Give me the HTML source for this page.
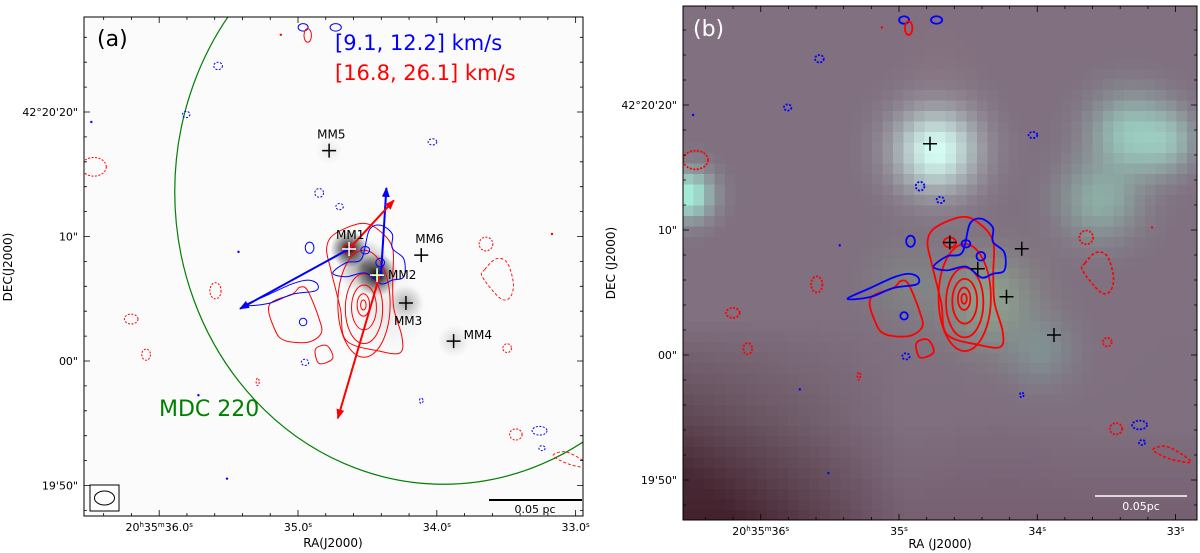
<!DOCTYPE html>
<html><head><meta charset="utf-8"><style>
html,body{margin:0;padding:0;background:#fff;}
svg{display:block;font-family:"DejaVu Sans","Liberation Sans",sans-serif;}
</style></head><body>
<svg id="fig" width="1200" height="553" viewBox="0 0 1200 553" xmlns="http://www.w3.org/2000/svg">
<defs>
<clipPath id="clipA"><rect x="84" y="17" width="499" height="499"/></clipPath>
<clipPath id="clipB"><rect x="683" y="6" width="514" height="514"/></clipPath>
<radialGradient id="blob" cx="50%" cy="50%" r="50%"><stop offset="0" stop-color="#000" stop-opacity="1"/><stop offset="0.4" stop-color="#000" stop-opacity="0.55"/><stop offset="1" stop-color="#000" stop-opacity="0"/></radialGradient>
<marker id="arrB" markerWidth="10" markerHeight="8" refX="9" refY="4" orient="auto" markerUnits="userSpaceOnUse"><path d="M0,0 L10,4 L0,8 z" fill="#0000ff"/></marker>
<marker id="arrR" markerWidth="10" markerHeight="8" refX="9" refY="4" orient="auto" markerUnits="userSpaceOnUse"><path d="M0,0 L10,4 L0,8 z" fill="#ff0000"/></marker>
</defs>
<g id="panelA">
<rect x="84" y="17" width="499" height="499" fill="#fbfbfb"/>
<g id="aImg" clip-path="url(#clipA)"></g>
<g id="aCont" clip-path="url(#clipA)"></g>
<g id="aOver"></g>
<rect x="84" y="17" width="499" height="499" fill="none" stroke="#000" stroke-width="1"/>
<g id="aTicks"></g>
<text x="97" y="46" font-size="22" fill="#000">(a)</text>
<text x="335" y="50" font-size="21" fill="#0000ff">[9.1, 12.2] km/s</text>
<text x="335" y="80" font-size="21" fill="#ff0000">[16.8, 26.1] km/s</text>
<text x="159" y="416" font-size="22" fill="#008000">MDC 220</text>
<rect x="90" y="485" width="29" height="26" fill="#fff" stroke="#000" stroke-width="1"/>
<ellipse cx="104.5" cy="498" rx="10" ry="7" fill="none" stroke="#000" stroke-width="1"/>
<line x1="489" y1="500" x2="582" y2="500" stroke="#000" stroke-width="2"/>
<text x="535" y="513" font-size="11" text-anchor="middle">0.05 pc</text>
<text x="333" y="547" font-size="12" text-anchor="middle">RA(J2000)</text>
<text transform="translate(12,267) rotate(-90)" font-size="12" text-anchor="middle">DEC(J2000)</text>
</g>
<g id="panelB">
<g id="bImg" clip-path="url(#clipB)"></g>
<g id="bCont" clip-path="url(#clipB)"></g>
<rect x="683" y="6" width="514" height="514" fill="none" stroke="#000" stroke-width="1"/>
<g id="bTicks"></g>
<text x="693" y="36" font-size="22" fill="#fff">(b)</text>
<line x1="1095" y1="496" x2="1187" y2="496" stroke="#fff" stroke-width="1.5"/>
<text x="1141" y="510" font-size="11" fill="#fff" text-anchor="middle">0.05pc</text>
<text x="940" y="548" font-size="12" text-anchor="middle">RA (J2000)</text>
<text transform="translate(615,263) rotate(-90)" font-size="12" text-anchor="middle">DEC (J2000)</text>
</g>
</svg>
<script>
// Data (X: arcsec west of RA 20h35m35.0s, Y: arcsec offset from Dec 42°20'00")
const sourceNames = ['MM1','MM2','MM3','MM4','MM5','MM6'];
const sourceX = [4.1, 6.35, 8.67, 12.5, 2.5, 9.9];
const sourceY = [9.0, 6.9, 4.66, 1.6, 16.9, 8.5];
const raTicks = [36, 35, 34, 33];
const raTickLabelsA = ['20h35m36.0s','35.0s','34.0s','33.0s'];
const raTickLabelsB = ['20h35m36s','35s','34s','33s'];
const decTicks = [20, 10, 0, -10];
const decTickLabels = ['42°20\'20"','10"','00"','19\'50"'];
const redOuter = [[2.94,10.2],[5.1,11.05],[6.5,10.5],[7.6,9.06],[7.6,6.5],[7.7,4.2],[8.35,1.94],[8.2,0.66],[6.5,0.8],[3.87,1.65],[3.4,4.2],[2.63,7.35],[2.3,9.06]];
const redLevelCX = [5.3, 5.3, 5.3, 5.25, 5.25];
const redLevelCY = [4.6, 4.2, 4.3, 4.5, 4.5];
const redLevelRX = [2.1, 1.5, 1.0, 0.5, 0.22];
const redLevelRY = [4.3, 2.8, 1.8, 0.9, 0.4];
const redLeft = [[-2.31,4.5],[-0.46,5.36],[0.16,5.93],[0.78,5.64],[1.7,3.37],[1.86,2.22],[0.78,1.51],[-1.08,1.65],[-1.85,2.5]];
const redSmall = [[1.4,0.94],[2.32,1.23],[2.79,0.22],[1.7,-0.2]];
const blueMain = [[2.79,7.07],[3.87,7.9],[5.1,8.2],[5.72,10.5],[6.65,10.9],[7.57,10.2],[7.57,9.06],[8.5,8.2],[8.5,6.77],[7.57,6.5],[6.65,6.2],[5.41,7.07],[3.87,6.77]];
const blueLeft = [[-4.16,4.5],[-2.31,5.36],[-0.46,6.2],[0.78,6.5],[1.55,6.2],[1.4,5.64],[-0.46,5.36],[-2.31,4.64]];
const redDashPoly = [[15.0,7.35],[15.9,8.2],[16.8,7.9],[17.3,6.2],[17.0,5.07],[16.2,5.07],[14.8,6.77]];
const redDashPoly2 = [[20.5,-7.6],[21.5,-7.3],[22.9,-8.0],[23.5,-8.6],[21.8,-8.3]];
// small contours: x, y, rx, ry, color, dashed
const smallX = [0.41,3.03,0.78,-6.42,-8.98,10.8,1.7,3.34,0.93,-16.4,15.1,-6.63,-13.4,-12.2,0.41,0.56,16.8,-3.24,9.9,17.5,19.4,19.6,5.4,6.6,4.1];
const smallY = [26.8,26.8,26.15,23.7,19.8,17.6,13.5,12.4,9.1,15.6,9.4,5.64,3.37,0.51,3.13,-0.11,1.03,-1.68,-3.19,-5.9,-5.6,-7.0,8.9,7.9,9.0];
const smallRX = [0.4,0.45,0.3,0.35,0.3,0.35,0.35,0.3,0.35,1.0,0.55,0.45,0.55,0.35,0.3,0.3,0.35,0.12,0.15,0.5,0.6,0.25,0.35,0.35,0.5];
const smallRY = [0.3,0.3,0.55,0.3,0.25,0.25,0.35,0.25,0.45,0.75,0.55,0.65,0.4,0.45,0.3,0.25,0.35,0.3,0.2,0.45,0.35,0.2,0.3,0.35,0.4];
const smallCol = ['b','b','r','b','b','b','b','b','b','r','r','r','r','r','b','b','r','r','b','r','b','b','b','b','r'];
const smallDash = [0,0,0,1,1,1,1,1,0,1,1,1,1,1,0,1,1,1,1,1,1,1,0,0,0];
const dotX = [-16.6,-4.78,-5.7,20.4,-1.38,-8.0];
const dotY = [19.2,8.77,-9.45,10.2,26.2,-2.75];
const dotCol = ['b','b','b','r','r','b'];
const arrowFromX = [4.1, 6.65, 4.1, 6.6];
const arrowFromY = [9.0, 6.7, 9.0, 7.0];
const arrowToX = [-4.66, 7.1, 7.7, 3.2];
const arrowToY = [4.2, 13.9, 12.9, -4.6];
const arrowCol = ['b','b','r','r'];
const mdcX = 11.7, mdcY = 13.6, mdcRX = 21.6, mdcRY = 23.5;

const NS = 'http://www.w3.org/2000/svg';
const A = {x: X => 298 + X*12.45, y: Y => 361 - Y*12.45, s: 12.45, w: 1};
const B = {x: X => 899 + X*12.4, y: Y => 355 - Y*12.5, s: 12.45, w: 1.8};
const raToX = ra => (35 - ra)*11.15;
function mk(tag, attrs, parent){ const e=document.createElementNS(NS,tag); for(const k in attrs) e.setAttribute(k,attrs[k]); parent.appendChild(e); return e; }
const C = {b:'#0000ff', r:'#ff0000'};
function smooth(pts, P){
  const p = pts.map(q=>[P.x(q[0]),P.y(q[1])]); const n=p.length; let d=`M${p[0][0]},${p[0][1]}`;
  for(let i=0;i<n;i++){const p0=p[(i-1+n)%n],p1=p[i],p2=p[(i+1)%n],p3=p[(i+2)%n];
    d+=` C${p1[0]+(p2[0]-p0[0])/6},${p1[1]+(p2[1]-p0[1])/6} ${p2[0]-(p3[0]-p1[0])/6},${p2[1]-(p3[1]-p1[1])/6} ${p2[0]},${p2[1]}`;}
  return d+'Z';
}
function contours(g, P){
  const sw = P.w;
  let e;
  e = mk('path',{d:smooth(redOuter,P),fill:'none',stroke:C.r,'stroke-width':sw},g);
  
  
  for(let i=0;i<redLevelCX.length;i++){
    e = mk('ellipse',{cx:P.x(redLevelCX[i]),cy:P.y(redLevelCY[i]),rx:redLevelRX[i]*P.s,ry:redLevelRY[i]*P.s,fill:'none',stroke:C.r,'stroke-width':sw},g);
    
    
  }
  e = mk('path',{d:smooth(redLeft,P),fill:'none',stroke:C.r,'stroke-width':sw},g);
  
  
  e = mk('path',{d:smooth(redSmall,P),fill:'none',stroke:C.r,'stroke-width':sw},g);
  
  
  e = mk('path',{d:smooth(blueMain,P),fill:'none',stroke:C.b,'stroke-width':sw},g);
  
  
  e = mk('path',{d:smooth(blueLeft,P),fill:'none',stroke:C.b,'stroke-width':sw},g);
  
  
  e = mk('path',{d:smooth(redDashPoly,P),fill:'none',stroke:C.r,'stroke-width':sw*0.9,'stroke-dasharray':'3,2'},g);
  
  
  e = mk('path',{d:smooth(redDashPoly2,P),fill:'none',stroke:C.r,'stroke-width':sw*0.9,'stroke-dasharray':'3,2'},g);
  
  
  for(let i=0;i<smallX.length;i++){
    const at={cx:P.x(smallX[i]),cy:P.y(smallY[i]),rx:smallRX[i]*P.s,ry:smallRY[i]*P.s,fill:'none',stroke:C[smallCol[i]],'stroke-width':sw};
    if(smallDash[i]) at['stroke-dasharray']='2,1.5';
    e = mk('ellipse',at,g);
    
    
  }
  for(let i=0;i<dotX.length;i++){
    e = mk('circle',{cx:P.x(dotX[i]),cy:P.y(dotY[i]),r:1.2,fill:C[dotCol[i]]},g);
    
    
  }
}
function crosses(g, P, labels){
  for(let i=0;i<sourceNames.length;i++){
    const x=P.x(sourceX[i]), y=P.y(sourceY[i]);
    const white = labels && i<2;
    const e = mk('path',{d:`M${x-7},${y}H${x+7}M${x},${y-7}V${y+7}`,stroke:white?'#fff':'#000','stroke-width':1.5},g);
    
    
    if(labels){
      const off = {MM1:[-13,-10],MM2:[11,4],MM3:[-12,22],MM4:[10,-2],MM5:[-12,-12],MM6:[-6,-12]}[sourceNames[i]];
      const t = mk('text',{x:x+off[0],y:y+off[1],'font-size':12,fill:'#000'},g);
      t.textContent = sourceNames[i];
      
      
    }
  }
}
function ticks(g, P, x0, y0, x1, y1, rlab){
  for(let ra=36.6; ra>=32.9; ra-=0.2){
    const x=P.x(raToX(ra)); if(x<x0||x>x1) continue;
    const major = Math.abs(ra-Math.round(ra))<0.01;
    const L = major?6:3;
    const e = mk('path',{d:`M${x},${y1}v-${L}M${x},${y0}v${L}`,stroke:'#000','stroke-width':0.8},g);
    
    
  }
  raTicks.forEach((ra,i)=>{
    const x=P.x(raToX(ra));
    const t=mk('text',{x:x,y:y1+15,'font-size':11,'text-anchor':'middle'},g);
    const lab = rlab[i];
    if(lab.startsWith('20h')){
      const parts = lab.match(/20h35m([\d.]+)s/);
      t.innerHTML = `20<tspan dy="-4" font-size="7">h</tspan><tspan dy="4">35</tspan><tspan dy="-4" font-size="7">m</tspan><tspan dy="4">${parts[1]}</tspan><tspan dy="-4" font-size="7">s</tspan>`;
    } else {
      t.innerHTML = `${lab.replace('s','')}<tspan dy="-4" font-size="7">s</tspan>`;
    }
    
    
  });
  for(let d=30; d>=-16; d-=2){
    const y=P.y(d); if(y<y0||y>y1) continue;
    const major = d%10===0; const L = major?6:3;
    const e = mk('path',{d:`M${x0},${y}h${L}M${x1},${y}h-${L}`,stroke:'#000','stroke-width':0.8},g);
    
    
  }
  decTicks.forEach((d,i)=>{
    const t=mk('text',{x:x0-6,y:P.y(d)+4,'font-size':11,'text-anchor':'end'},g);
    t.textContent = decTickLabels[i];
    
    
  });
}
// Panel A image (grayscale dust continuum)
const aImg = document.getElementById('aImg');
const blobs = [[4.1,9.0,1.5,1],[6.35,6.9,1.7,1],[5.3,7.6,2.2,0.45],[8.67,4.66,1.4,0.3],[12.5,1.6,1.3,0.15],[2.5,16.9,1.1,0.08],[7,4,3.5,0.08]];
blobs.forEach(b=>{
  const e = mk('ellipse',{cx:A.x(b[0]),cy:A.y(b[1]),rx:b[2]*12.45,ry:b[2]*12.45,fill:'url(#blob)','fill-opacity':b[3]},aImg);
  
  
});
const ell = mk('ellipse',{cx:A.x(mdcX),cy:A.y(mdcY),rx:mdcRX*12.45,ry:mdcRY*12.45,fill:'none',stroke:'#008000','stroke-width':1.2},aImg);


contours(document.getElementById('aCont'), A);
const aOver = document.getElementById('aOver');
for(let i=0;i<arrowFromX.length;i++){
  const e = mk('line',{x1:A.x(arrowFromX[i]),y1:A.y(arrowFromY[i]),x2:A.x(arrowToX[i]),y2:A.y(arrowToY[i]),stroke:C[arrowCol[i]],'stroke-width':2,'marker-end':arrowCol[i]==='b'?'url(#arrB)':'url(#arrR)'},aOver);
  
  
}
const g2 = mk('path',{d:`M${A.x(6.35)-5},${A.y(6.9)}h10M${A.x(6.35)},${A.y(6.9)-5}v10`,stroke:'#00dd00','stroke-width':2},aOver);


crosses(aOver, A, true);
ticks(document.getElementById('aTicks'), A, 84, 17, 583, 516, raTickLabelsA);
// Panel B pixelated RGB image
const bImg = document.getElementById('bImg');
const cell = 10.5;
function col(px,py){
  let r=128,g=112,b=128;
  const dk = Math.min(1, Math.max(0,(py-320)/150) * Math.max(0, 1-(px-683)/220));
  r-=50*dk; g-=62*dk; b-=68*dk;
  const dk2 = Math.min(1, Math.max(0,(py-420)/100)) * 0.35;
  r-=30*dk2; g-=45*dk2; b-=40*dk2;
  const add=(cx,cy,rad,cr,cg,cb,amp)=>{const d2=((px-cx)**2+(py-cy)**2)/(rad*rad); const w=amp*Math.exp(-d2); r+= (cr-r)*w; g+=(cg-g)*w; b+=(cb-b)*w;};
  add(936,150,42,215,255,245,1);
  add(1130,135,40,160,225,205,0.75);
  add(1100,200,40,150,215,190,0.6);
  add(1165,140,30,170,235,215,0.6);
  add(688,195,25,170,255,230,0.9);
  add(990,300,45,150,195,150,0.6);
  add(1040,350,35,130,180,170,0.45);
  add(910,285,40,130,165,140,0.35);
  add(940,60,40,150,120,130,0.25);
  add(1000,480,60,120,95,115,0.3);
  return `rgb(${r|0},${g|0},${b|0})`;
}
for(let y=6;y<520;y+=cell){ for(let x=683;x<1197;x+=cell){
  const e = mk('rect',{x:x,y:y,width:cell+0.6,height:cell+0.6,fill:col(x+cell/2,y+cell/2)},bImg);
}}
contours(document.getElementById('bCont'), B);
crosses(document.getElementById('bCont'), B, false);
ticks(document.getElementById('bTicks'), B, 683, 6, 1197, 520, raTickLabelsB);
</script>
</body></html>
